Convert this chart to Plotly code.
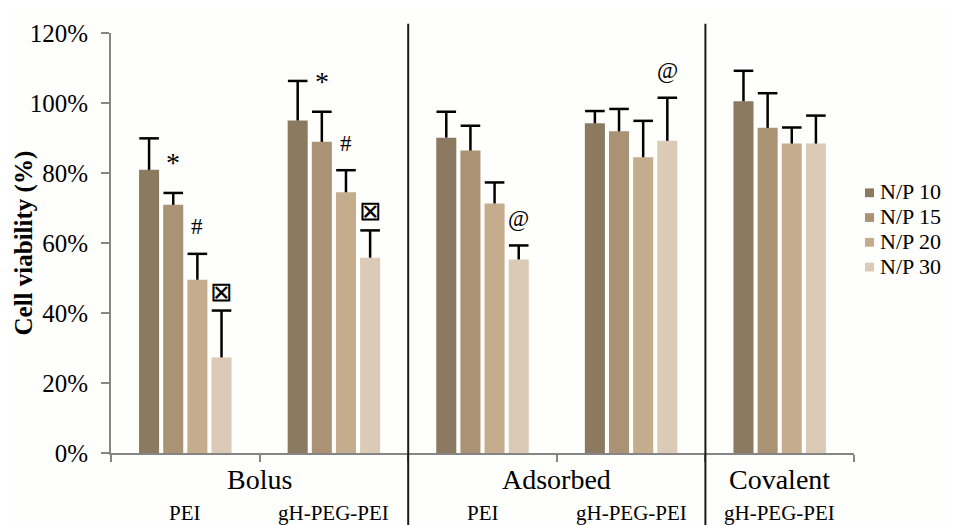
import plotly.graph_objects as go

# ---------------- data ----------------
categories = ["Bolus PEI", "Bolus gH-PEG-PEI", "Adsorbed PEI",
              "Adsorbed gH-PEG-PEI", "Covalent gH-PEG-PEI"]
sub_labels = ["PEI", "gH-PEG-PEI", "PEI", "gH-PEG-PEI", "gH-PEG-PEI"]
group_labels = ["Bolus", "Adsorbed", "Covalent"]
group_members = [[0, 1], [2, 3], [4]]

series_names = ["N/P 10", "N/P 15", "N/P 20", "N/P 30"]
np10 = [80.9, 95.0, 90.1, 94.2, 100.5]
np15 = [70.9, 88.9, 86.4, 91.9, 92.9]
np20 = [49.5, 74.5, 71.3, 84.5, 88.4]
np30 = [27.3, 55.8, 55.3, 89.2, 88.4]
err10 = [9.0, 11.3, 7.4, 3.5, 8.7]
err15 = [3.4, 8.6, 7.1, 6.4, 9.9]
err20 = [7.4, 6.3, 6.0, 10.4, 4.6]
err30 = [13.4, 7.8, 4.0, 12.3, 8.0]

# significance marks: category index, series index, symbol
sig_category = [0, 0, 0, 1, 1, 1, 2, 3]
sig_series = [1, 2, 3, 1, 2, 3, 3, 3]
sig_text = ["*", "#", "\u22a0", "*", "#", "\u22a0", "@", "@"]

y_tick_values = [0, 20, 40, 60, 80, 100, 120]
y_tick_labels = ["0%", "20%", "40%", "60%", "80%", "100%", "120%"]

values = [np10, np15, np20, np30]
errors = [err10, err15, err20, err30]

# ---------------- style / layout ----------------
colors = ["#8B7A60", "#AA9374", "#C4AC8D", "#DBCAB5"]
FONT = "Liberation Serif, Times New Roman, serif"
OFF = 8  # default page body margin
W, H = 953 - OFF, 525 - OFF
ML, MT, PW, PH = 111 - OFF, 22 - OFF, 743, 431
MR, MB = W - ML - PW, H - MT - PH
BARGAP, GROUPGAP = 0.35, 0.17
NS = len(series_names)
slot = (1 - BARGAP) / NS
offsets = [-(1 - BARGAP) / 2 + slot * (i + 0.5) for i in range(NS)]


def px_x(px):
    # page pixel -> paper x
    return (px - OFF - ML) / PW


def px_y(py):
    # page pixel -> paper y
    return (OFF + MT + PH - py) / PH


sym_style = {"*": (28, 30), "#": (23, 27), "\u22a0": (27, 19), "@": (23, 27)}

xs = list(range(len(categories)))
fig = go.Figure()
for i in range(NS):
    fig.add_trace(go.Bar(
        x=xs, y=values[i], name=series_names[i],
        marker=dict(color=colors[i], line=dict(width=0)),
        error_y=dict(type="data", symmetric=False, array=errors[i],
                     arrayminus=[0] * len(xs), color="black",
                     thickness=2.5, width=0),
        showlegend=False, hovertext=categories,
    ))
# error-bar caps (top only)
for i in range(NS):
    fig.add_trace(go.Scatter(
        x=[c + offsets[i] for c in xs],
        y=[v + e for v, e in zip(values[i], errors[i])],
        mode="markers", cliponaxis=False, showlegend=False, hoverinfo="skip",
        marker=dict(symbol="line-ew", size=14,
                    line=dict(width=2.5, color="black")),
    ))

annotations = []
for c, s, t in zip(sig_category, sig_series, sig_text):
    size, shift = sym_style[t]
    annotations.append(dict(
        x=c + offsets[s], y=values[s][c] + errors[s][c], xref="x", yref="y",
        text=t, showarrow=False, yanchor="middle", yshift=shift,
        font=dict(family=FONT, size=size, color="black")))

for lab, mem in zip(group_labels, group_members):
    annotations.append(dict(
        x=sum(mem) / len(mem), y=px_y(480), xref="x", yref="paper",
        text=lab, showarrow=False, yanchor="middle",
        font=dict(family=FONT, size=28, color="black")))
for c, lab in zip(xs, sub_labels):
    annotations.append(dict(
        x=c, y=px_y(515), xref="x", yref="paper", text=lab,
        showarrow=False, yanchor="middle",
        font=dict(family=FONT, size=21, color="black")))

annotations.append(dict(
    x=px_x(24), y=px_y(238), xref="paper", yref="paper",
    text="<b>Cell viability (%)</b>", textangle=-90, showarrow=False,
    xanchor="center", yanchor="middle",
    font=dict(family=FONT, size=25, color="black")))

shapes = []
# group separators
for b in [1.5, 3.5]:
    shapes.append(dict(type="line", xref="x", yref="paper", x0=b, x1=b,
                       y0=px_y(530), y1=px_y(12.5),
                       line=dict(color="#1a1a1a", width=2)))

# legend
LEG_TOP, LEG_STEP = 186, 25.4
for i, name in enumerate(series_names):
    cy = LEG_TOP + LEG_STEP * i
    shapes.append(dict(type="rect", xref="paper", yref="paper",
                       x0=px_x(865), x1=px_x(874),
                       y0=px_y(cy + 4.5), y1=px_y(cy - 4.5),
                       fillcolor=colors[i], line=dict(width=0)))
    annotations.append(dict(
        x=px_x(878), y=px_y(cy - 1), xref="paper", yref="paper", text=name,
        showarrow=False, xanchor="left", yanchor="middle",
        font=dict(family=FONT, size=22, color="black")))

fig.update_layout(
    width=W, height=H, margin=dict(l=ML, r=MR, t=MT, b=MB),
    barmode="group", bargap=BARGAP, bargroupgap=GROUPGAP,
    paper_bgcolor="#fefefc", plot_bgcolor="#fefefc",
    font=dict(family=FONT, size=24, color="black"),
    showlegend=False,
    annotations=annotations, shapes=shapes,
    xaxis=dict(range=[-0.5, len(xs) - 0.5],
               tickvals=[x - 0.5 for x in xs] + [len(xs) - 0.5],
               showticklabels=False, ticks="outside", ticklen=7,
               tickwidth=2, tickcolor="#858585", showline=True,
               linecolor="#858585", linewidth=2, showgrid=False,
               zeroline=False),
    yaxis=dict(range=[0, 120], tickvals=y_tick_values,
               ticktext=y_tick_labels, ticks="outside", ticklen=8,
               tickwidth=2, tickcolor="#858585", showline=True,
               linecolor="#858585", linewidth=2, showgrid=False,
               zeroline=False, ticklabelstandoff=8,
               tickfont=dict(family=FONT, size=25, color="black")),
)

fig.write_html("out.html")
